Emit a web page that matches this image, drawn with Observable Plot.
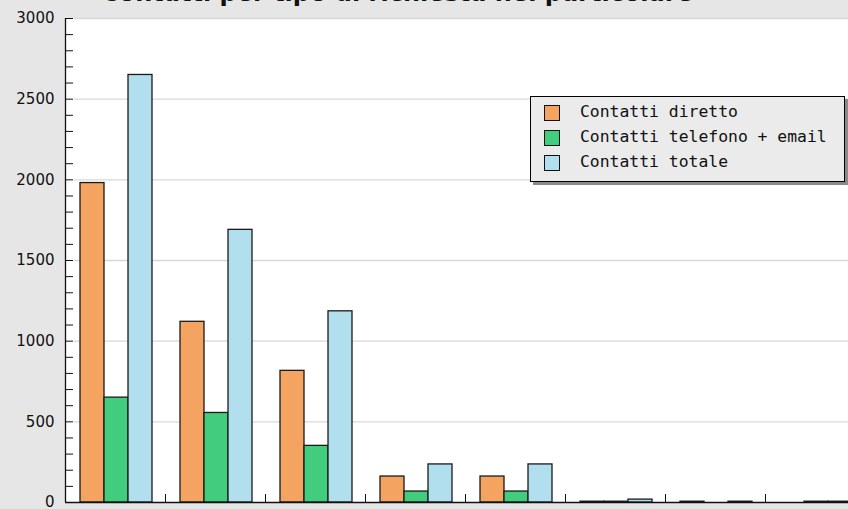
<!DOCTYPE html>
<html>
<head>
<meta charset="utf-8">
<script src="https://cdn.jsdelivr.net/npm/d3@7"></script>
<script src="https://cdn.jsdelivr.net/npm/@observablehq/plot@0.6"></script>
<style>
  html, body { margin: 0; padding: 0; background: #e6e6e6; }
  #wrap { position: relative; width: 848px; height: 509px; overflow: hidden; background: #e6e6e6; }
  #title { position: absolute; left: 0; width: 794px; top: -19px; text-align: center;
    font: bold 24px "DejaVu Sans", sans-serif; color: #111; line-height: 24px; white-space: nowrap; }
  #chart { position: absolute; left: 0; top: 0; width: 865px; height: 509px; }
  #chart svg { max-width: none !important; }
  #legend { position: absolute; left: 530px; top: 96px; width: 313px; height: 84px;
    background: #ebebeb; border: 1px solid #000; box-shadow: 3px 3px 0 #8a8a8a;
    font: 16.4px "DejaVu Sans Mono", monospace; color: #111; }
  .row { position: absolute; left: 13px; height: 16px; line-height: 16px; white-space: nowrap; }
  .sw { position: absolute; left: 0; top: 0; width: 14px; height: 14px; border: 1px solid #111; }
  .lab { position: absolute; left: 36px; top: -1px; }
</style>
</head>
<body>
<div id="wrap">
  <div id="chart"></div>
  <div id="title"></div>
  <div id="legend"></div>
</div>
<script>
const titleText = "Contatti per tipo di richiesta nel particolare";
const categories = ["Tipo 1", "Tipo 2", "Tipo 3", "Tipo 4", "Tipo 5", "Tipo 6", "Tipo 7", "Tipo 8"];
const seriesNames = ["Contatti diretto", "Contatti telefono + email", "Contatti totale"];
const seriesColors = ["#f4a460", "#42cd7e", "#b1dfee"];
const diretto = [1980, 1120, 816, 161, 161, 5, 5, 0];
const telefonoEmail = [650, 555, 351, 68, 68, 5, 0, 5];
const totale = [2650, 1690, 1185, 236, 236, 18, 5, 5];
const yTicks = [0, 500, 1000, 1500, 2000, 2500, 3000];
const yMinorTicks = d3.range(0, 3001, 100);

const seriesValues = [diretto, telefonoEmail, totale];
const rows = categories.map((c, i) => ({cat: c, values: seriesValues.map(s => s[i])}));

document.getElementById("title").textContent = titleText;

const barWidth = 24, leftGap = 15, band = 100;
const barMarks = seriesNames.map((name, si) =>
  Plot.barY(rows, {
    x: "cat",
    y: d => d.values[si],
    fill: seriesColors[si],
    stroke: "#1a1a1a",
    strokeWidth: 1.3,
    insetLeft: leftGap + si * barWidth,
    insetRight: band - leftGap - (si + 1) * barWidth
  })
);

const chart = Plot.plot({
  width: 865,
  height: 509,
  marginLeft: 65,
  marginRight: 0,
  marginTop: 18,
  marginBottom: 7,
  style: {background: "transparent", fontFamily: "DejaVu Sans", fontSize: "15px", color: "#111", maxWidth: "none"},
  x: {domain: categories, padding: 0, axis: null, label: null},
  y: {domain: [0, 3000], axis: null, label: null},
  marks: [
    Plot.frame({fill: "white", stroke: "none"}),
    Plot.gridY(yTicks.slice(1), {stroke: "#d8d8d8", strokeOpacity: 1, strokeWidth: 1.3, insetLeft: 9}),
    ...barMarks,
    Plot.axisY({ticks: yMinorTicks, tickSize: -8, tickFormat: () => "", stroke: "#111", label: null}),
    Plot.axisY({ticks: yTicks, tickSize: 0, tickPadding: 11, tickFormat: d => String(d), fill: "#111", label: null}),
    Plot.axisX({tickSize: -8, dx: 50, tickFormat: () => "", stroke: "#111", label: null}),
    Plot.ruleY([0], {stroke: "#111", strokeWidth: 1.3}),
    Plot.ruleX([categories[0]], {dx: -50, stroke: "#111", strokeWidth: 1.3})
  ]
});
document.getElementById("chart").appendChild(chart);

const legend = document.getElementById("legend");
seriesNames.forEach((name, i) => {
  const row = document.createElement("div");
  row.className = "row";
  row.style.top = (8 + i * 25) + "px";
  const sw = document.createElement("div");
  sw.className = "sw";
  sw.style.background = seriesColors[i];
  const lab = document.createElement("div");
  lab.className = "lab";
  lab.textContent = name;
  row.appendChild(sw);
  row.appendChild(lab);
  legend.appendChild(row);
});
</script>
</body>
</html>
